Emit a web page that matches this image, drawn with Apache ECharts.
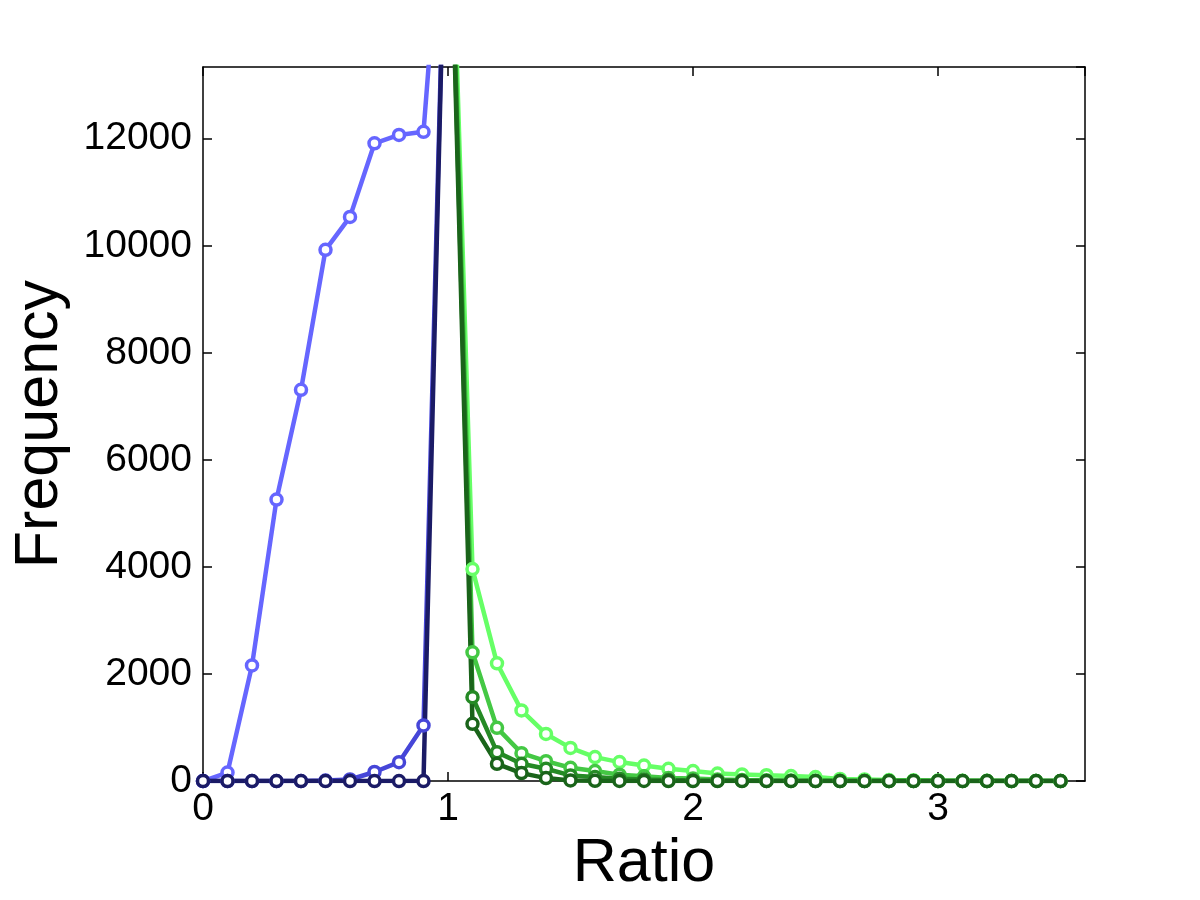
<!DOCTYPE html>
<html>
<head>
<meta charset="utf-8">
<script src="https://cdn.jsdelivr.net/npm/echarts@6/dist/echarts.min.js"></script>
<style>
html,body{margin:0;padding:0;background:#fff;}
#chart{width:1200px;height:900px;}
</style>
</head>
<body>
<div id="chart"></div>
<script>
// ---- data ----
const xBlue = [0, 0.1, 0.2, 0.3, 0.4, 0.5, 0.6, 0.7, 0.8, 0.9, 1.0];
const blueLight = [0, 160, 2160, 5260, 7310, 9925, 10540, 11915, 12070, 12130, 18000];
const blueMid   = [0, 0, 0, 0, 0, 10, 30, 170, 354, 1040, 18500];
const blueDark  = [0, 0, 0, 0, 0, 0, 0, 0, 0, 0, 18600];

const xGreen = [1.0, 1.1, 1.2, 1.3, 1.4, 1.5, 1.6, 1.7, 1.8, 1.9, 2.0, 2.1, 2.2, 2.3, 2.4, 2.5, 2.6, 2.7, 2.8, 2.9, 3.0, 3.1, 3.2, 3.3, 3.4, 3.5];
const greenLight = [18800, 3960, 2200, 1320, 880, 620, 448, 355, 290, 230, 187, 140, 125, 110, 95, 75, 40, 30, 20, 15, 10, 6, 5, 4, 3, 2];
const greenMid   = [18600, 2407, 995, 522, 373, 249, 187, 120, 90, 60, 48, 30, 20, 14, 10, 8, 5, 4, 3, 2, 2, 1, 1, 1, 1, 0];
const greenDark  = [18400, 1567, 541, 323, 230, 106, 75, 44, 30, 20, 12, 8, 5, 3, 2, 1, 1, 0, 0, 0, 0, 0, 0, 0, 0, 0];
const greenDeep  = [18250, 1070, 323, 149, 56, 12, 6, 3, 2, 1, 0, 0, 0, 0, 0, 0, 0, 0, 0, 0, 0, 0, 0, 0, 0, 0];

const xTicks = [0, 1, 2, 3];
const yTicks = [0, 2000, 4000, 6000, 8000, 10000, 12000];

const pairs = (xs, ys) => xs.map((x, i) => [x, ys[i]]);

const FONT = 'Liberation Sans, Arial, sans-serif';

function mk(name, xs, ys, color) {
  return {
    name: name,
    type: 'line',
    data: pairs(xs, ys),
    symbol: 'circle',
    symbolSize: 11,
    showAllSymbol: true,
    color: color,
    lineStyle: { color: color, width: 4.5 },
    itemStyle: { color: '#ffffff', borderColor: color, borderWidth: 3.5 },
    emphasis: { disabled: true },
    clip: true
  };
}

const chart = echarts.init(document.getElementById('chart'), null, { renderer: 'canvas', devicePixelRatio: 1 });

const axisLineStyle = { color: '#000', width: 1.5 };

chart.setOption({
  animation: false,
  backgroundColor: '#fff',
  grid: { left: 203, top: 67, right: 115, bottom: 118, containLabel: false },
  xAxis: [
    {
      type: 'value', min: 0, max: 3.6, interval: 1,
      position: 'bottom',
      name: 'Ratio', nameLocation: 'middle', nameGap: 45,
      nameTextStyle: { fontFamily: FONT, fontSize: 61, color: '#000' },
      axisLine: { show: true, onZero: false, lineStyle: axisLineStyle },
      axisTick: { show: true, inside: true, length: 9, lineStyle: { color: '#000', width: 1.5 } },
      axisLabel: {
        fontFamily: FONT, fontSize: 39, color: '#000', margin: 9,
        showMaxLabel: false,
        formatter: v => (xTicks.indexOf(v) >= 0 ? String(v) : '')
      },
      splitLine: { show: false }
    },
    {
      type: 'value', min: 0, max: 3.6, interval: 1,
      position: 'top',
      axisLine: { show: true, onZero: false, lineStyle: axisLineStyle },
      axisTick: { show: true, inside: true, length: 9, lineStyle: { color: '#000', width: 1.5 } },
      axisLabel: { show: false },
      splitLine: { show: false }
    }
  ],
  yAxis: [
    {
      type: 'value', min: 0, max: 13340, interval: 2000,
      position: 'left',
      name: 'Frequency', nameLocation: 'middle', nameGap: 132, nameRotate: 90,
      nameTextStyle: { fontFamily: FONT, fontSize: 61, color: '#000' },
      axisLine: { show: true, onZero: false, lineStyle: axisLineStyle },
      axisTick: { show: true, inside: true, length: 9, lineStyle: { color: '#000', width: 1.5 } },
      axisLabel: {
        fontFamily: FONT, fontSize: 39, color: '#000', margin: 11,
        showMaxLabel: false,
        formatter: v => (yTicks.indexOf(v) >= 0 ? String(v) : '')
      },
      splitLine: { show: false }
    },
    {
      type: 'value', min: 0, max: 13340, interval: 2000,
      position: 'right',
      axisLine: { show: true, onZero: false, lineStyle: axisLineStyle },
      axisTick: { show: true, inside: true, length: 9, lineStyle: { color: '#000', width: 1.5 } },
      axisLabel: { show: false },
      splitLine: { show: false }
    }
  ],
  series: [
    mk('blueLight', xBlue, blueLight, '#6666ff'),
    mk('blueMid', xBlue, blueMid, '#4646d8'),
    mk('blueDark', xBlue, blueDark, '#1b1b66'),
    mk('greenLight', xGreen, greenLight, '#66ff66'),
    mk('greenMid', xGreen, greenMid, '#44c844'),
    mk('greenDark', xGreen, greenDark, '#258a25'),
    mk('greenDeep', xGreen, greenDeep, '#1a641a')
  ]
});
</script>
</body>
</html>
